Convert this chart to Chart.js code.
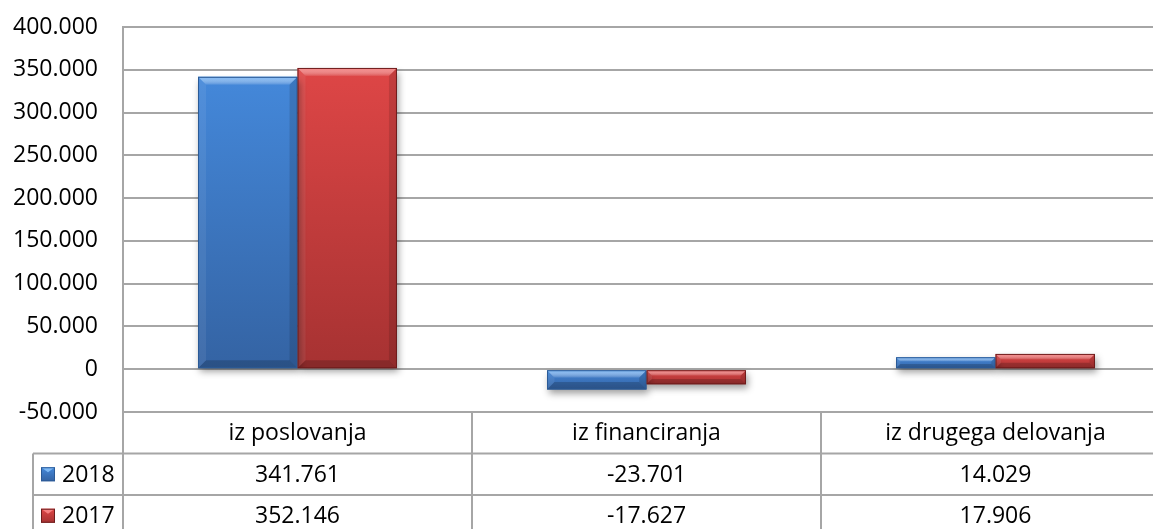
<!DOCTYPE html>
<html>
<head>
<meta charset="utf-8">
<script src="https://cdn.jsdelivr.net/npm/chart.js@4.4.1/dist/chart.umd.min.js"></script>
<style>
  html, body { margin: 0; padding: 0; background: #fff; overflow: hidden; }
  #wrap { position: absolute; left: 0; top: 0; width: 1172px; height: 540px; }
</style>
</head>
<body>
<div id="wrap"><canvas id="c"></canvas></div>
<script>
// ---- data ----
const categories = ['iz poslovanja', 'iz financiranja', 'iz drugega delovanja'];
const seriesNames = ['2018', '2017'];
const values2018 = [341761, -23701, 14029];
const values2017 = [352146, -17627, 17906];
const yMin = -50000;
const yMax = 400000;
const yStep = 50000;

// ---- style ----
const FONT_FAMILY = '"Open Sans", "Noto Sans", sans-serif';
const FONT_SIZE = 23;
const GRID = '#a6a6a6';
const PLOT_TOP = 27;
const PLOT_BOTTOM = 412;
const palette = [
  { top: '#4488da', bottom: '#3463a3', light: '#7db8f5', dark: '#244e86', edge: '#2b5a96' },
  { top: '#de4646', bottom: '#a63232', light: '#f58080', dark: '#7e2222', edge: '#6e1c1c' }
];

function fmt(v) {
  const neg = v < 0;
  const s = Math.abs(Math.round(v)).toString().replace(/\B(?=(\d{3})+(?!\d))/g, '.');
  return (neg ? '-' : '') + s;
}

function barGradient(ctx, idx) {
  const chart = ctx.chart;
  const p = palette[idx];
  if (!chart.chartArea || ctx.type !== 'data') return p.top;
  const ys = chart.scales.y;
  const v = ctx.raw;
  const t = ys.getPixelForValue(Math.max(v, 0));
  const b = ys.getPixelForValue(Math.min(v, 0));
  if (!isFinite(t) || !isFinite(b) || b - t < 1) return p.top;
  const g = chart.ctx.createLinearGradient(0, t, 0, b);
  g.addColorStop(0, p.top);
  g.addColorStop(1, p.bottom);
  return g;
}

const shadowPlugin = {
  id: 'shadow',
  beforeDatasetsDraw(chart) {
    const c = chart.ctx;
    c.save();
    c.shadowColor = 'rgba(0,0,0,0.38)';
    c.shadowBlur = 7;
    c.shadowOffsetX = 2;
    c.shadowOffsetY = 4;
  },
  afterDatasetsDraw(chart) {
    chart.ctx.restore();
    const c = chart.ctx;
    chart.data.datasets.forEach((ds, di) => {
      const meta = chart.getDatasetMeta(di);
      const p = palette[di];
      meta.data.forEach(el => {
        const { x, y, base, width } = el.getProps(['x', 'y', 'base', 'width'], true);
        const l = x - width / 2, r = x + width / 2;
        const t = Math.min(y, base), b = Math.max(y, base);
        const h = b - t;
        const bv = Math.min(8, h / 2.6);
        c.save();
        let g = c.createLinearGradient(0, t, 0, t + bv);
        g.addColorStop(0, p.light);
        g.addColorStop(1, 'rgba(255,255,255,0.08)');
        c.fillStyle = g;
        c.beginPath(); c.moveTo(l, t); c.lineTo(r, t); c.lineTo(r - bv, t + bv); c.lineTo(l + bv, t + bv); c.closePath(); c.fill();
        c.fillStyle = 'rgba(255,255,255,0.07)';
        c.beginPath(); c.moveTo(l, t); c.lineTo(l + bv, t + bv); c.lineTo(l + bv, b - bv); c.lineTo(l, b); c.closePath(); c.fill();
        c.fillStyle = 'rgba(0,0,0,0.12)';
        c.beginPath(); c.moveTo(r, t); c.lineTo(r - bv, t + bv); c.lineTo(r - bv, b - bv); c.lineTo(r, b); c.closePath(); c.fill();
        c.fillStyle = 'rgba(0,0,0,0.18)';
        c.beginPath(); c.moveTo(l, b); c.lineTo(l + bv, b - bv); c.lineTo(r - bv, b - bv); c.lineTo(r, b); c.closePath(); c.fill();
        c.strokeStyle = p.edge;
        c.lineWidth = 1;
        c.strokeRect(l + 0.5, t + 0.5, width - 1, h - 1);
        c.restore();
      });
    });
  }
};

const tablePlugin = {
  id: 'dataTable',
  afterDraw(chart) {
    const c = chart.ctx;
    const area = chart.chartArea;
    const xs = chart.scales.x;
    const rowH = 41.5;
    const y0 = area.bottom;
    const y1 = y0 + rowH;
    const y2 = y1 + rowH;
    const y3 = y2 + rowH;
    const legendLeft = 33;
    const catW = xs.getPixelForValue(1) - xs.getPixelForValue(0);
    const rightEdge = chart.width;

    c.save();
    c.strokeStyle = GRID;
    c.lineWidth = 2;
    c.beginPath();
    [y1, y2, y3].forEach(yy => { c.moveTo(legendLeft, yy); c.lineTo(rightEdge, yy); });
    c.moveTo(legendLeft, y1); c.lineTo(legendLeft, y3);
    c.moveTo(area.left, y0); c.lineTo(area.left, y3);
    for (let i = 1; i < categories.length; i++) {
      const bx = xs.getPixelForValue(i) - catW / 2;
      c.moveTo(bx, y0); c.lineTo(bx, y3);
    }
    c.stroke();

    c.fillStyle = '#000';
    c.font = FONT_SIZE + 'px ' + FONT_FAMILY;
    c.textBaseline = 'middle';
    c.textAlign = 'center';
    categories.forEach((cat, i) => {
      c.fillText(cat, xs.getPixelForValue(i), y0 + rowH / 2 + 1);
    });
    const rows = [values2018, values2017];
    rows.forEach((vals, ri) => {
      const ry = y1 + ri * rowH + rowH / 2 + 1;
      c.textAlign = 'center';
      c.fillStyle = '#000';
      vals.forEach((v, i) => c.fillText(fmt(v), xs.getPixelForValue(i), ry));
      const p = palette[ri];
      const kx = 41, ky = ry - 8, ks = 14;
      const g = c.createLinearGradient(0, ky, 0, ky + ks);
      g.addColorStop(0, p.top); g.addColorStop(1, p.bottom);
      c.fillStyle = g;
      c.fillRect(kx, ky, ks, ks);
      c.fillStyle = p.light;
      c.beginPath(); c.moveTo(kx, ky); c.lineTo(kx + ks, ky); c.lineTo(kx + ks / 2, ky + 5); c.closePath(); c.fill();
      c.strokeStyle = p.edge; c.lineWidth = 1;
      c.strokeRect(kx + 0.5, ky + 0.5, ks - 1, ks - 1);
      c.fillStyle = '#000';
      c.textAlign = 'left';
      c.fillText(seriesNames[ri], 62, ry);
    });
    c.restore();
  }
};

function build() {
  new Chart(document.getElementById('c'), {
    type: 'bar',
    data: {
      labels: categories,
      datasets: [
        { label: seriesNames[0], data: values2018, backgroundColor: ctx => barGradient(ctx, 0), borderWidth: 0 },
        { label: seriesNames[1], data: values2017, backgroundColor: ctx => barGradient(ctx, 1), borderWidth: 0 }
      ]
    },
    options: {
      responsive: true,
      maintainAspectRatio: false,
      animation: false,
      layout: { padding: { top: PLOT_TOP, bottom: 540 - PLOT_BOTTOM, left: 0, right: 2 } },
      datasets: { bar: { barPercentage: 1.0, categoryPercentage: 0.57 } },
      plugins: { legend: { display: false }, tooltip: { enabled: false } },
      scales: {
        x: { display: false },
        y: {
          min: yMin, max: yMax,
          afterFit(s) { s.width = 123; s.paddingTop = 0; s.paddingBottom = 0; },
          ticks: {
            stepSize: yStep,
            padding: 25,
            color: '#000',
            font: { family: FONT_FAMILY, size: FONT_SIZE },
            callback: v => fmt(v)
          },
          grid: { color: GRID, lineWidth: 2, drawTicks: false },
          border: { display: true, color: GRID, width: 2 }
        }
      }
    },
    plugins: [shadowPlugin, tablePlugin]
  });
}

if (document.fonts && document.fonts.load) {
  document.fonts.load('23px "Open Sans"').then(build, build);
} else {
  build();
}
</script>
</body>
</html>
